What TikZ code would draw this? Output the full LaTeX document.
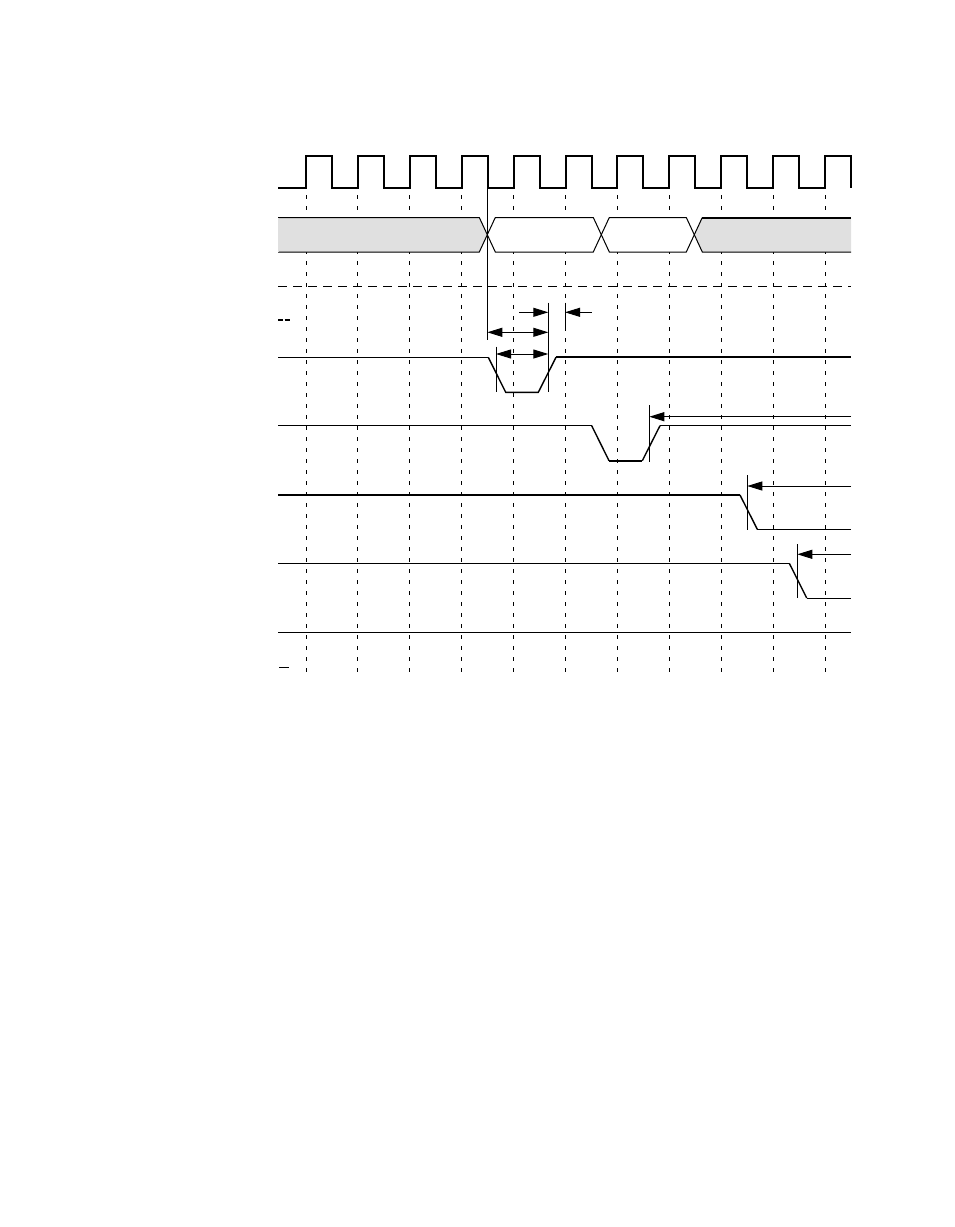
\documentclass[tikz,border=0pt]{standalone}
\usetikzlibrary{arrows.meta}
\begin{document}
\begin{tikzpicture}[x=1pt,y=-1pt,
  thinw/.style={line width=1pt},
  midw/.style={line width=1.4pt},
  thickw/.style={line width=2pt},
  gridline/.style={line width=1pt, dash pattern=on 4pt off 7pt},
  hdash/.style={line width=1pt, dash pattern=on 9pt off 6pt},
  arr/.style={-{Triangle[length=15pt,width=9pt]}, line width=1pt},
  darr/.style={{Triangle[length=15pt,width=9pt]}-{Triangle[length=15pt,width=9pt]}, line width=1pt},
  busgray/.style={fill=black!12, draw=black, line width=1pt},
  buswhite/.style={fill=white, draw=black, line width=1pt}]
\useasboundingbox (0,0) rectangle (954,1227);

% clock
\draw[thickw] (278,188.3) \foreach \k in {0,...,10} { -- ({306+\k*51.9},188.3) -- ({306+\k*51.9},155.5) -- ({332+\k*51.9},155.5) -- ({332+\k*51.9},188.3) };

% dashed grid verticals
\foreach \k in {0,...,10} { \draw[gridline] ({306+\k*51.9},195) -- ({306+\k*51.9},672); }

% horizontal dashed line
\draw[hdash] (278,286) -- (851,286);

% bus
\draw[busgray] (278,217.5) -- (479.3,217.5) -- (487.3,234.7) -- (479.3,252) -- (278,252);
\fill[black!12] (278,217.5) rectangle (279,252);
\draw[buswhite] (487.3,234.7) -- (495.3,217.5) -- (593.3,217.5) -- (601.3,234.7) -- (593.3,252) -- (495.3,252) -- cycle;
\draw[buswhite] (601.3,234.7) -- (609.3,217.5) -- (686.3,217.5) -- (694.3,234.7) -- (686.3,252) -- (609.3,252) -- cycle;
\fill[black!12] (694.3,234.7) -- (702.3,217.5) -- (851,217.5) -- (851,252) -- (702.3,252) -- cycle;
\draw[line width=1pt] (851,252) -- (702.3,252) -- (694.3,234.7) -- (702.3,217.5);
\draw[thickw] (702.3,217.5) -- (851,217.5);

% coordinates
\coordinate (v0t) at (487.3,155.5); \coordinate (v0b) at (487.3,340);
\coordinate (v1t) at (548.3,302.7); \coordinate (v1b) at (548.3,391.7);
\coordinate (v2t) at (496,346.7);   \coordinate (v2b) at (496,392.3);
\coordinate (v3t) at (565,302.7);   \coordinate (v3b) at (565,326.7);
\coordinate (v4t) at (649.3,405);   \coordinate (v4b) at (649.3,461.7);
\coordinate (v5t) at (747.3,475);   \coordinate (v5b) at (747.3,530);
\coordinate (v6t) at (797.3,544);   \coordinate (v6b) at (797.3,598.3);

\draw[thinw] (v0t) -- (v0b);
\draw[thinw] (v1t) -- (v1b);
\draw[thinw] (v2t) -- (v2b);
\draw[thinw] (v3t) -- (v3b);
\draw[thinw] (v4t) -- (v4b);
\draw[thinw] (v5t) -- (v5b);
\draw[thinw] (v6t) -- (v6b);

% arrows
\coordinate (a1s) at (519.3,312.3); \coordinate (a1e) at (548.3,312.3);
\coordinate (a2s) at (591.7,312.3); \coordinate (a2e) at (565,312.3);
\coordinate (d1s) at (487.3,332.3); \coordinate (d1e) at (548.3,332.3);
\coordinate (d2s) at (496,354);     \coordinate (d2e) at (548.3,354);
\coordinate (a3s) at (851,416.7);   \coordinate (a3e) at (649.3,416.7);
\coordinate (a4s) at (851,486);     \coordinate (a4e) at (747.3,486);
\coordinate (a5s) at (851,554.3);   \coordinate (a5e) at (797.3,554.3);
\draw[arr] (a1s) -- (a1e);
\draw[arr] (a2s) -- (a2e);
\draw[darr] (d1s) -- (d1e);
\draw[darr] (d2s) -- (d2e);
\draw[arr] (a3s) -- (a3e);
\draw[arr] (a4s) -- (a4e);
\draw[arr] (a5s) -- (a5e);

% signal 1
\draw[thinw] (278,357.3) -- (488.3,357.3);
\draw[midw] (488.3,357.3) -- (505.7,392.3) -- (538.3,392.3) -- (556,357.3);
\draw[thickw] (555.5,357.3) -- (851,357.3);

% signal 2
\draw[thinw] (278,425.7) -- (591.7,425.7);
\draw[midw] (591.7,425.7) -- (609,460.7);
\draw[thickw] (609,460.7) -- (642.3,460.7);
\draw[midw] (642.3,460.7) -- (660,425.7);
\draw[thinw] (660,425.7) -- (851,425.7);

% signal 3
\draw[line width=2.4pt] (278,495) -- (740,495);
\draw[midw] (740,495) -- (757.3,529.3);
\draw[thinw] (757.3,529.3) -- (851,529.3);

% signal 4
\draw[thinw] (278,563.3) -- (789.3,563.3);
\draw[midw] (789.3,563.3) -- (806.7,598);
\draw[thinw] (806.7,598) -- (851,598);

% signal 5
\draw[thinw] (278,632.3) -- (851,632.3);

% small marks
\draw[line width=2pt, dash pattern=on 5pt off 1.5pt] (278,320) -- (289.5,320);
\draw[thinw] (279.3,667.3) -- (289.3,667.3);
\end{tikzpicture}
\end{document}
